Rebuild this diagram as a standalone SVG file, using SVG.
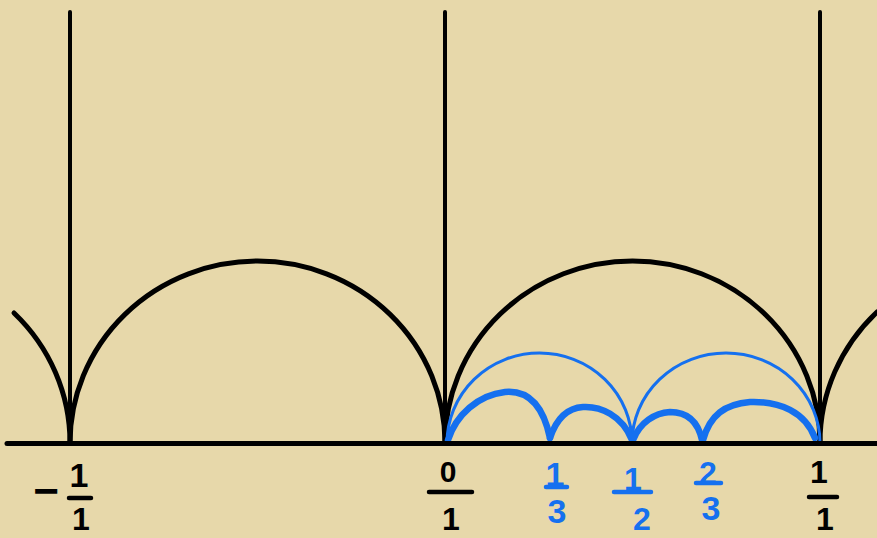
<svg xmlns="http://www.w3.org/2000/svg" width="877" height="538" viewBox="0 0 877 538">
  <style>
    .blk { fill: none; stroke: #000; stroke-linecap: round; }
    .geo { stroke-width: 5; }
    .vert { stroke-width: 4; }
    .thin { fill: none; stroke: #1570ef; stroke-width: 3; }
    .thick { fill: none; stroke: #1570ef; stroke-width: 6.5; stroke-linecap: round; stroke-linejoin: round; }
    .lb { font-family: "Liberation Sans", "DejaVu Sans", sans-serif; font-weight: bold; text-anchor: middle; }
    .lbk { fill: #000; }
    .lbb { fill: #1570ef; }
    .barK { stroke: #000; stroke-width: 4.5; stroke-linecap: round; }
    .barB { stroke: #1570ef; stroke-width: 4.5; stroke-linecap: round; }
  </style>
  <rect x="0" y="0" width="877" height="538" fill="#e7d8aa"/>

  <g id="connectors">
    <g id="verticals">
      <line class="blk vert" x1="70" y1="12" x2="70" y2="443"/>
      <line class="blk vert" x1="445" y1="12" x2="445" y2="443"/>
      <line class="blk vert" x1="820" y1="12" x2="820" y2="443"/>
    </g>
    <g id="black-arcs">
      <path class="blk geo" d="M14,313 A187.5,182 0 0,1 70,443"/>
      <path class="blk geo" d="M70,443 A187.5,182 0 0,1 445,443"/>
      <path class="blk geo" d="M445,443 A187.5,182 0 0,1 820,443"/>
      <path class="blk geo" d="M820,443 A187.5,182 0 0,1 877,312"/>
    </g>
    <g id="blue-thin-arcs">
      <path class="thin" d="M447,443 A92.5,90 0 0,1 632,443"/>
      <path class="thin" d="M632,443 A94,90 0 0,1 820,443"/>
    </g>
    <g id="blue-thick-arcs">
      <path class="thick" d="M448,440 C456,415 478,395 505,392 C528,390 543,405 550,438"/>
      <path class="thick" d="M550,438 C556,420 566,408 583,407 C600,406 622,415 632,440"/>
      <path class="thick" d="M633,440 C640,422 655,413 670,412 C688,412 698,422 702,440"/>
      <path class="thick" d="M703,440 C710,415 725,404 750,402 C780,401 805,412 815,438"/>
    </g>
    <line id="axis" class="blk" stroke-width="5" x1="7" y1="443.5" x2="877" y2="443.5"/>
  </g>

  <g id="label-neg1">
    <text class="lb lbk" x="46" y="506" font-size="44">−</text>
    <text class="lb lbk" x="79" y="487" font-size="34">1</text>
    <line class="barK" x1="69" y1="498" x2="91" y2="498"/>
    <text class="lb lbk" x="81" y="530" font-size="32">1</text>
  </g>
  <g id="label-0">
    <text class="lb lbk" x="448" y="482" font-size="30">0</text>
    <line class="barK" x1="429" y1="492" x2="472" y2="492"/>
    <text class="lb lbk" x="451" y="530" font-size="32">1</text>
  </g>
  <g id="label-1-3">
    <text class="lb lbb" x="555" y="486" font-size="34">1</text>
    <line class="barB" x1="546" y1="487" x2="567" y2="487"/>
    <text class="lb lbb" x="557" y="523" font-size="34">3</text>
  </g>
  <g id="label-1-2">
    <text class="lb lbb" x="633" y="490" font-size="32">1</text>
    <line class="barB" x1="614" y1="492" x2="651" y2="492"/>
    <text class="lb lbb" x="642" y="530" font-size="32">2</text>
  </g>
  <g id="label-2-3">
    <text class="lb lbb" x="708" y="484" font-size="32">2</text>
    <line class="barB" x1="696" y1="483" x2="721" y2="483"/>
    <text class="lb lbb" x="711" y="520" font-size="34">3</text>
  </g>
  <g id="label-1-1">
    <text class="lb lbk" x="819" y="483" font-size="32">1</text>
    <line class="barK" x1="809" y1="497" x2="837" y2="497"/>
    <text class="lb lbk" x="825" y="530" font-size="32">1</text>
  </g>
</svg>
